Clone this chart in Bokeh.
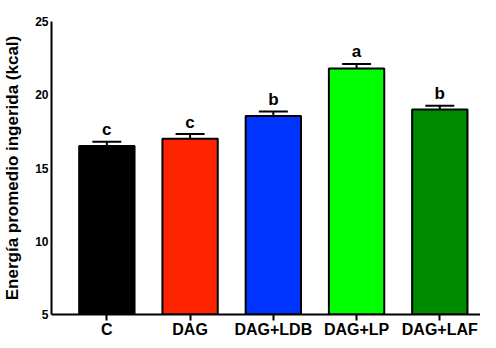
from bokeh.plotting import figure
from bokeh.models import ColumnDataSource, Range1d, FixedTicker, Whisker, TeeHead
from bokeh.core.properties import value
from bokeh.embed import file_html
from bokeh.resources import INLINE

categories = ["C", "DAG", "DAG+LDB", "DAG+LP", "DAG+LAF"]
means = [16.5, 17.0, 18.55, 21.8, 19.0]
sems = [0.3, 0.32, 0.3, 0.3, 0.25]
letters = ["c", "c", "b", "a", "b"]
colors = ["#000000", "#FF2400", "#0035FF", "#00FF00", "#008A00"]
y_ticks = [5, 10, 15, 20, 25]
y_title = "Energía promedio ingerida (kcal)"

xs = list(range(len(categories)))
upper = [m + s for m, s in zip(means, sems)]

src = ColumnDataSource(dict(x=xs, top=means, upper=upper, color=colors, letter=letters))

FONT = "Liberation Sans"

p = figure(width=480, height=340, output_backend="svg", toolbar_location=None,
           x_range=Range1d(-0.665, 4.489), y_range=Range1d(5, 25),
           min_border_left=48, min_border_right=0, min_border_top=21, min_border_bottom=0)
p.outline_line_color = None
p.xgrid.visible = False
p.ygrid.visible = False
p.background_fill_color = "white"
p.border_fill_color = "white"

p.vbar(x="x", top="top", bottom=5, width=0.665, fill_color="color",
       line_color="black", line_width=2, source=src)

wh = Whisker(base="x", lower="top", upper="upper", source=src,
             line_color="black", line_width=2,
             upper_head=TeeHead(size=29, line_color="black", line_width=2),
             lower_head=None)
p.add_layout(wh)

p.text(x="x", y="upper", text="letter", source=src, text_align="center",
       text_baseline="alphabetic", y_offset=-12, text_font=value(FONT),
       text_font_style="bold", text_font_size="17px", text_color="black")

# y axis
p.yaxis.ticker = FixedTicker(ticks=y_ticks)
p.yaxis.axis_line_width = 2
p.yaxis.axis_line_color = "black"
p.yaxis.major_tick_out = 0
p.yaxis.major_tick_in = 0
p.yaxis.minor_tick_out = 0
p.yaxis.minor_tick_in = 0
p.yaxis.major_label_text_font = FONT
p.yaxis.major_label_text_font_style = "bold"
p.yaxis.major_label_text_font_size = "12px"
p.yaxis.major_label_text_color = "black"
p.yaxis.major_label_standoff = 3
p.yaxis.axis_label = y_title
p.yaxis.axis_label_text_font = FONT
p.yaxis.axis_label_text_font_style = "bold"
p.yaxis.axis_label_text_font_size = "17px"
p.yaxis.axis_label_text_color = "black"
p.yaxis.axis_label_standoff = 10

# x axis
p.xaxis.ticker = FixedTicker(ticks=xs)
p.xaxis.major_label_overrides = {i: c for i, c in zip(xs, categories)}
p.xaxis.axis_line_width = 2
p.xaxis.axis_line_color = "black"
p.xaxis.major_tick_out = 6
p.xaxis.major_tick_in = 0
p.xaxis.major_tick_line_width = 2
p.xaxis.minor_tick_out = 0
p.xaxis.minor_tick_in = 0
p.xaxis.major_label_text_font = FONT
p.xaxis.major_label_text_font_style = "bold"
p.xaxis.major_label_text_font_size = "16px"
p.xaxis.major_label_text_color = "black"
p.xaxis.major_label_standoff = 0

open("out.html", "w").write(file_html(p, INLINE))
